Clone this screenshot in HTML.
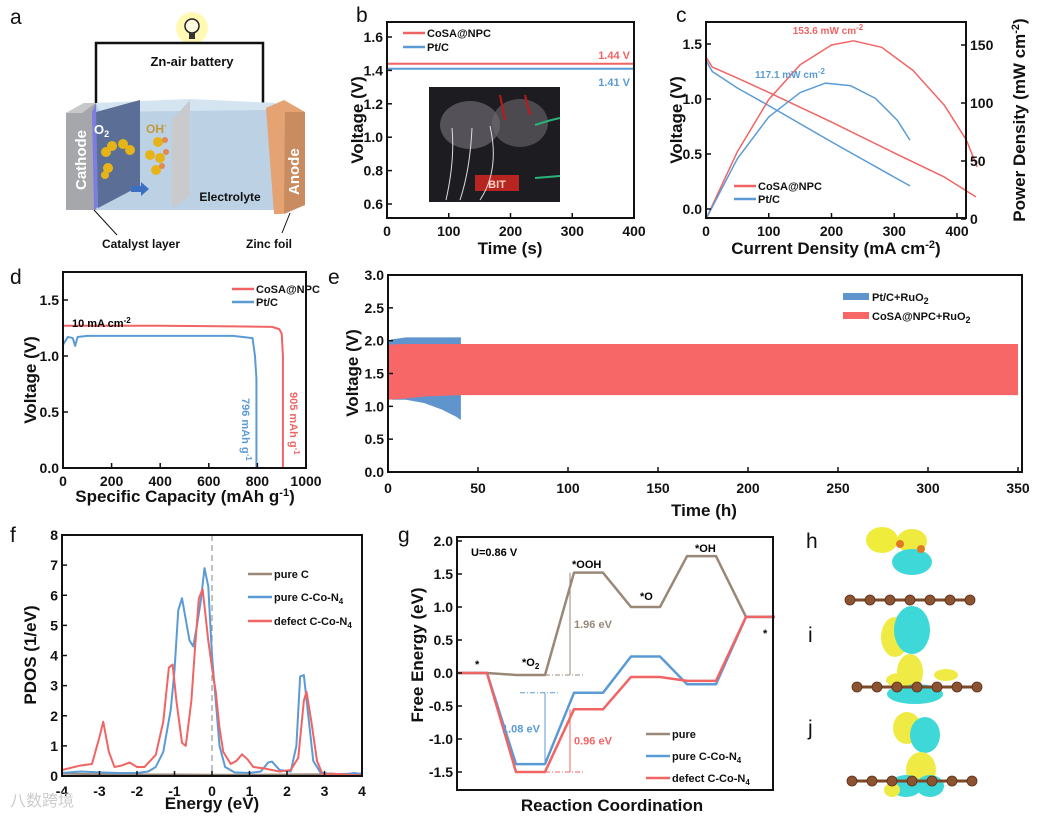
<!DOCTYPE html>
<html><head><meta charset="utf-8"><style>
html,body{margin:0;padding:0;background:#fff;}
svg{display:block;font-family:"Liberation Sans",Arial,sans-serif;}
.t{font-weight:bold;font-size:14px;fill:#111;}
.ax{font-weight:bold;font-size:17px;fill:#111;}
.pl{font-size:21px;fill:#111;}
.lg{font-weight:bold;font-size:11px;fill:#111;}
</style></head><body>
<svg id="fig" width="1039" height="817" viewBox="0 0 1039 817" xmlns="http://www.w3.org/2000/svg">
<g>
  <circle cx="192" cy="28" r="16" fill="#fff7a0" opacity="0.8"/>
  <circle cx="192" cy="26" r="7" fill="#fffbe0" stroke="#222" stroke-width="1.5"/>
  <rect x="189" y="33" width="6" height="6" fill="#333"/>
  <polyline points="96,103 96,43 263,43 263,103" fill="none" stroke="#111" stroke-width="2.5"/>
  <text x="192" y="66" text-anchor="middle" font-weight="bold" font-size="13" fill="#111">Zn-air battery</text>
  <polygon points="96,103 190,100 275,103 275,210 96,210" fill="#bcd2e4"/>
  <polygon points="96,103 190,99 275,103 268,110 100,112" fill="#d4e4f0"/>
  <polygon points="66,113 84,103 96,103 96,210 66,210" fill="#a6a7aa"/>
  <polygon points="66,113 84,103 96,103 82,113" fill="#c7c8ca"/>
  <polygon points="92,112 96,103 98,207 94,210" fill="#7b7ee0"/>
  <polygon points="96,112 140,100 140,186 98,208" fill="#5b6f96"/>
  <polygon points="172,120 190,100 190,196 172,208" fill="#c9cacd"/>
  <polygon points="266,108 284,100 305,112 305,205 282,214 274,214" fill="#e5a272"/>
  <polygon points="285,112 305,112 305,205 284,214" fill="#c98c60"/>
  <text transform="translate(86,190) rotate(-90)" font-weight="bold" font-size="15" fill="#fff">Cathode</text>
  <text transform="translate(299,195) rotate(-90)" font-weight="bold" font-size="15" fill="#fff">Anode</text>
  <text x="94" y="134" font-weight="bold" font-size="13" fill="#fff">O<tspan font-size="9" dy="3">2</tspan></text>
  <text x="146" y="133" font-weight="bold" font-size="12" fill="#c29a3c">OH<tspan font-size="8" dy="-5">-</tspan></text>
  <g fill="#e6b418">
    <circle cx="106" cy="152" r="5"/><circle cx="112" cy="146" r="5"/><circle cx="123" cy="144" r="5"/><circle cx="130" cy="150" r="5"/><circle cx="108" cy="168" r="5"/><circle cx="105" cy="175" r="4"/>
    <circle cx="158" cy="142" r="5"/><circle cx="150" cy="155" r="5"/><circle cx="160" cy="158" r="5"/><circle cx="156" cy="170" r="5"/>
  </g>
  <g fill="#e08a50"><circle cx="165" cy="140" r="3"/><circle cx="166" cy="152" r="3"/><circle cx="162" cy="166" r="3"/></g>
  <polygon points="131,186 141,186 141,182 149,189 141,196 141,192 131,192" fill="#3a6fc4"/>
  <text x="230" y="201" text-anchor="middle" font-weight="bold" font-size="12" fill="#111">Electrolyte</text>
  <line x1="94" y1="210" x2="117" y2="235" stroke="#111" stroke-width="1"/>
  <line x1="290" y1="213" x2="282" y2="233" stroke="#111" stroke-width="1"/>
  <text x="141" y="248" text-anchor="middle" font-weight="bold" font-size="12" fill="#111">Catalyst layer</text>
  <text x="269" y="248" text-anchor="middle" font-weight="bold" font-size="12" fill="#111">Zinc foil</text>
</g>
<g>
  <rect x="429" y="87" width="131" height="115" fill="#1d1c20"/>
  <ellipse cx="470" cy="125" rx="30" ry="24" fill="#6c6870" opacity="0.7"/>
  <ellipse cx="520" cy="123" rx="28" ry="24" fill="#6c6870" opacity="0.6"/>
  <rect x="475" y="175" width="44" height="16" fill="#b8241f"/>
  <text x="497" y="188" text-anchor="middle" font-weight="bold" font-size="11" fill="#ffd0c0">BIT</text>
  <path d="M452 128 Q455 160 446 200 M472 128 Q470 170 460 200 M490 126 Q500 170 480 200" stroke="#ddd" fill="none" stroke-width="1"/>
  <path d="M525 95 L530 115 M500 95 L505 120" stroke="#c01818" stroke-width="2"/>
  <path d="M535 125 Q550 120 560 118 M535 178 L560 176" stroke="#2bb27a" stroke-width="2" fill="none"/>
</g>
<g>
  <ellipse cx="882" cy="540" rx="16" ry="13" fill="#f0ec3c"/>
  <ellipse cx="912" cy="541" rx="15" ry="12" fill="#eeea40"/>
  <ellipse cx="912" cy="562" rx="20" ry="13" fill="#3ed8d8"/>
  <circle cx="900" cy="544" r="4" fill="#e07a20"/><circle cx="921" cy="549" r="4" fill="#e07a20"/>
</g>
<g>
  <ellipse cx="895" cy="637" rx="14" ry="20" fill="#efeb44"/>
  <ellipse cx="912" cy="630" rx="18" ry="24" fill="#3ed8d8"/>
  <ellipse cx="910" cy="672" rx="13" ry="18" fill="#efeb44"/>
  <ellipse cx="946" cy="675" rx="12" ry="6" fill="#efeb44"/>
  <ellipse cx="915" cy="694" rx="28" ry="10" fill="#3ed8d8"/>
  <ellipse cx="900" cy="680" rx="14" ry="7" fill="#efeb44"/>
</g>
<g>
  <ellipse cx="907" cy="728" rx="14" ry="16" fill="#efeb44"/>
  <ellipse cx="925" cy="735" rx="15" ry="18" fill="#3ed8d8"/>
  <ellipse cx="921" cy="770" rx="15" ry="18" fill="#efeb44"/>
  <ellipse cx="906" cy="786" rx="16" ry="11" fill="#3ed8d8"/>
  <ellipse cx="930" cy="786" rx="14" ry="11" fill="#3ed8d8"/>
  <ellipse cx="892" cy="790" rx="8" ry="7" fill="#efeb44"/>
</g>
</svg>
<script>
const NS='http://www.w3.org/2000/svg';
const svg=document.getElementById('fig');
function el(tag,attrs,txt){const e=document.createElementNS(NS,tag);for(const k in attrs)e.setAttribute(k,attrs[k]);if(txt!==undefined)e.textContent=txt;svg.appendChild(e);return e;}
function sc(d0,d1,r0,r1){return v=>r0+(v-d0)*(r1-r0)/(d1-d0);}

// panel b
const bTime=[0,400];
const bCoSA=[1.44,1.44];
const bPtC=[1.41,1.41];
const bXTicks=[0,100,200,300,400];
const bYTicks=[0.6,0.8,1.0,1.2,1.4,1.6];
// panel c
const cCoSA_I=[0,10,50,100,200,300,380,430];
const cCoSA_V=[1.38,1.29,1.19,1.06,0.79,0.51,0.29,0.11];
const cPt_I=[0,10,50,100,200,300,325];
const cPt_V=[1.35,1.25,1.1,0.94,0.61,0.29,0.21];
const cCoSA_PI=[0,50,100,150,200,235,280,330,380,415,432];
const cCoSA_P=[0,58,103,133,150,153.6,148,128,98,68,45];
const cPt_PI=[0,50,100,150,190,230,270,305,325];
const cPt_P=[0,52,88,109,117.1,115,104,85,68];
const cXTicks=[0,100,200,300,400];
const cYTicks=[0.0,0.5,1.0,1.5];
const cPTicks=[0,50,100,150];
// panel d
const dCoSA_C=[0,100,400,700,860,890,900,905,905];
const dCoSA_V=[1.27,1.27,1.27,1.265,1.26,1.24,1.2,1.0,0];
const dPt_C=[0,20,40,50,60,100,400,700,780,790,796,796];
const dPt_V=[1.1,1.17,1.16,1.09,1.17,1.18,1.18,1.18,1.16,1.0,0.8,0];
const dXTicks=[0,200,400,600,800,1000];
const dYTicks=[0.0,0.5,1.0,1.5];
// panel e
const ePt_T=[0,2,10,20,30,38,40,40.5];
const ePt_Top=[1.98,2.02,2.05,2.05,2.05,2.05,2.05,2.05];
const ePt_Bot=[1.15,1.1,1.1,1.05,0.95,0.84,0.8,0.8];
const eCo_T=[0,10,20,40,100,200,300,350];
const eCo_Top=[1.94,1.95,1.95,1.95,1.95,1.95,1.95,1.95];
const eCo_Bot=[1.1,1.12,1.15,1.17,1.17,1.17,1.17,1.17];
const eXTicks=[0,50,100,150,200,250,300,350];
const eYTicks=[0.0,0.5,1.0,1.5,2.0,2.5,3.0];
// panel f
const fRedE=[-4,-3.5,-3.2,-3,-2.9,-2.75,-2.6,-2.4,-2.2,-2,-1.8,-1.5,-1.3,-1.15,-1.05,-0.95,-0.8,-0.7,-0.55,-0.45,-0.35,-0.25,-0.1,0,0.1,0.2,0.3,0.5,0.65,0.8,0.95,1.1,1.4,1.8,2.1,2.3,2.45,2.52,2.65,2.8,2.95,3.2,3.5,4];
const fRed=[0.2,0.35,0.4,1.3,1.8,0.8,0.3,0.35,0.45,0.3,0.3,0.7,1.8,3.6,3.7,2.5,1.1,1.0,2.5,4.3,5.9,6.2,4.5,3.6,2.8,1.6,0.8,0.4,0.5,0.72,0.55,0.3,0.25,0.15,0.2,0.6,2.5,2.8,1.8,0.5,0.05,0.08,0.05,0.02];
const fBlueE=[-4,-3.5,-3,-2.5,-2,-1.7,-1.5,-1.3,-1.1,-1.0,-0.9,-0.8,-0.7,-0.6,-0.5,-0.4,-0.3,-0.2,-0.1,0,0.1,0.2,0.35,0.6,1,1.3,1.5,1.6,1.8,2.1,2.25,2.35,2.45,2.55,2.7,2.9,3.5,3.8,4];
const fBlue=[0.1,0.15,0.12,0.1,0.1,0.15,0.3,0.8,2.2,3.5,5.5,5.9,5.2,4.5,4.3,5.0,5.8,6.9,6.3,4.0,2.5,1.0,0.3,0.12,0.1,0.15,0.45,0.48,0.2,0.15,1.0,3.3,3.35,2.2,0.5,0.1,0.05,0.1,0.05];
const fBrownE=[-4,-3,-2,-1,0,1,2,3,4];
const fBrown=[0.08,0.06,0.05,0.05,0.04,0.04,0.05,0.06,0.08];
const fXTicks=[-4,-3,-2,-1,0,1,2,3,4];
const fYTicks=[0,1,2,3,4,5,6,7,8];
// panel g
const gSteps=[0,1,2,3,4,5];
const gPure=[0,-0.03,1.52,1.0,1.77,0.85];
const gPureCoN4=[0,-1.38,-0.3,0.25,-0.17,0.85];
const gDefect=[0,-1.5,-0.55,-0.06,-0.12,0.85];
const gYTicks=[-1.5,-1.0,-0.5,0.0,0.5,1.0,1.5,2.0];

const RED='#f06464', BLUE='#5b9bd5', BROWN='#998877';

function frame(name,x0,y0,x1,y1){const r=el('rect',{x:x0,y:y0,width:x1-x0,height:y1-y0,fill:'none',stroke:'#111','stroke-width':2});

}
function xAxis(name,ticks,X,y0,y1,fmt,ly,fs){for(const t of ticks){const l=el('line',{x1:X(t),x2:X(t),y1:y1,y2:y1-5,stroke:'#111','stroke-width':1.5});


const tx=el('text',{x:X(t),y:ly,'text-anchor':'middle',class:'t','font-size':fs||14},fmt(t));

}}
function yAxis(name,ticks,Y,x,fmt,right,fs){for(const t of ticks){const l=el('line',{x1:x,x2:right?x-5:x+5,y1:Y(t),y2:Y(t),stroke:'#111','stroke-width':1.5});


const tx=el('text',{x:right?x+4:x-4,y:Y(t)+5,'text-anchor':right?'start':'end',class:'t','font-size':fs||14},fmt(t));

}}
function line(name,xs,ys,X,Y,color,w){const p=el('polyline',{points:xs.map((x,i)=>X(x)+','+Y(ys[i])).join(' '),fill:'none',stroke:color,'stroke-width':w||2,'stroke-linejoin':'round'});

return p;}
function text(name,x,y,s,attrs){const t=el('text',Object.assign({x:x,y:y},attrs||{}));t.innerHTML=s;

return t;}
function vtext(name,x,y,s,fs){const t=el('text',{transform:`translate(${x},${y}) rotate(-90)`,'text-anchor':'middle',class:'ax','font-size':fs||17});t.innerHTML=s;

return t;}
function legend(name,x,y,color,label,len){const l=el('line',{x1:x,x2:x+(len||22),y1:y,y2:y,stroke:color,'stroke-width':2.5});


text(name,x+(len||22)+2,y+4,label,{class:'lg'});}
const f1=v=>v.toFixed(1), f0=v=>String(v);

[['a',10,24],['b',356,22],['c',676,22],['d',10,284],['e',328,284],['f',10,542],['g',398,542],['h',806,548],['i',808,642],['j',808,735]].forEach(p=>{text('panel-label-'+p[0],p[1],p[2],p[0],{class:'pl'});});

// panel b
{const X=sc(0,400,387,634),Y=sc(0.6,1.6,204,37);
line('b-series-cosa',bTime,bCoSA,X,Y,RED);line('b-series-ptc',bTime,bPtC,X,Y,BLUE);
frame('b',387,22,634,218);xAxis('b',bXTicks,X,22,218,f0,236);yAxis('b',bYTicks,Y,387,f1);
vtext('b-y-axis-title',363,120,'Voltage (V)');text('b-x-axis-title',510,254,'Time (s)',{'text-anchor':'middle',class:'ax'});
legend('b-legend-cosa',403,33,RED,'CoSA@NPC');legend('b-legend-ptc',403,47,BLUE,'Pt/C');
text('b-label-144',630,59,'1.44 V',{'text-anchor':'end','font-size':11,'font-weight':'bold',fill:RED});
text('b-label-141',630,86,'1.41 V',{'text-anchor':'end','font-size':11,'font-weight':'bold',fill:BLUE});}

// panel c
{const X=sc(0,400,706,957),Y=sc(0,1.5,209,44),P=sc(0,150,219,45);
line('c-voltage-cosa',cCoSA_I,cCoSA_V,X,Y,RED,1.5);line('c-voltage-ptc',cPt_I,cPt_V,X,Y,BLUE,1.5);
line('c-power-cosa',cCoSA_PI,cCoSA_P,X,P,RED,1.5);line('c-power-ptc',cPt_PI,cPt_P,X,P,BLUE,1.5);
frame('c',706,22,966,218);xAxis('c',cXTicks,X,22,218,f0,236);yAxis('c',cYTicks,Y,706,f1);yAxis('c-right',cPTicks,P,966,f0,true);
vtext('c-y-axis-title',682,120,'Voltage (V)');vtext('c-y2-axis-title',1025,120,'Power Density (mW cm<tspan font-size="11" dy="-6">-2</tspan><tspan dy="6">)</tspan>');
text('c-x-axis-title',836,254,'Current Density (mA cm<tspan font-size="11" dy="-6">-2</tspan><tspan dy="6">)</tspan>',{'text-anchor':'middle',class:'ax'});
legend('c-legend-cosa',734,186,RED,'CoSA@NPC');legend('c-legend-ptc',734,199,BLUE,'Pt/C');
text('c-peak-cosa',828,34,'153.6 mW cm<tspan font-size="8" dy="-4">-2</tspan>',{'text-anchor':'middle','font-size':10,'font-weight':'bold',fill:RED});
text('c-peak-ptc',790,78,'117.1 mW cm<tspan font-size="8" dy="-4">-2</tspan>',{'text-anchor':'middle','font-size':10,'font-weight':'bold',fill:BLUE});}

// panel d
{const X=sc(0,1000,63,306),Y=sc(0,1.5,468,300);
line('d-series-cosa',dCoSA_C,dCoSA_V,X,Y,RED);line('d-series-ptc',dPt_C,dPt_V,X,Y,BLUE);
frame('d',63,272,306,468);xAxis('d',dXTicks,X,272,468,f0,486);yAxis('d',dYTicks,Y,63,f1);
vtext('d-y-axis-title',36,380,'Voltage (V)');
text('d-x-axis-title',185,502,'Specific Capacity (mAh g<tspan font-size="11" dy="-6">-1</tspan><tspan dy="6">)</tspan>',{'text-anchor':'middle',class:'ax'});
text('d-current-label',72,327,'10 mA cm<tspan font-size="8" dy="-4">-2</tspan>',{'font-size':11,'font-weight':'bold'});
legend('d-legend-cosa',232,289,RED,'CoSA@NPC');legend('d-legend-ptc',232,302,BLUE,'Pt/C');
text('d-capacity-cosa',0,0,'905 mAh g<tspan font-size="8" dy="-4">-1</tspan>',{transform:'translate(290,392) rotate(90)','font-size':11,'font-weight':'bold',fill:RED});
text('d-capacity-ptc',0,0,'796 mAh g<tspan font-size="8" dy="-4">-1</tspan>',{transform:'translate(242,398) rotate(90)','font-size':11,'font-weight':'bold',fill:BLUE});}

// panel e
{const X=sc(0,350,388,1018),Y=sc(0,3,472,275);
function band(name,ts,top,bot,color){const pts=ts.map((t,i)=>X(t)+','+Y(top[i])).concat(ts.slice().reverse().map((t,i)=>X(t)+','+Y(bot[ts.length-1-i])));
const p=el('polygon',{points:pts.join(' '),fill:color});

}
band('e-band-ptc',ePt_T,ePt_Top,ePt_Bot,'#5f95cc');band('e-band-cosa',eCo_T,eCo_Top,eCo_Bot,'#f76768');
const fr=el('rect',{x:388,y:275,width:634,height:197,fill:'none',stroke:'#111','stroke-width':2});


xAxis('e',eXTicks,X,275,472,f0,493,16);yAxis('e',eYTicks,Y,388,f1,false,16);
vtext('e-y-axis-title',358,373,'Voltage (V)',20);
text('e-x-axis-title',704,516,'Time (h)',{'text-anchor':'middle',class:'ax','font-size':20});
const l1=el('rect',{x:843,y:293,width:26,height:7,fill:'#5f95cc'});


text('e-legend-ptc',872,301,'Pt/C+RuO<tspan font-size="9" dy="3">2</tspan>',{class:'lg','font-size':12});
const l2=el('rect',{x:843,y:312,width:26,height:7,fill:'#f76768'});


text('e-legend-cosa',872,320,'CoSA@NPC+RuO<tspan font-size="9" dy="3">2</tspan>',{class:'lg','font-size':12});}

// panel f
{const X=sc(-4,4,62,362),Y=sc(0,8,776,535);
const dl=el('line',{x1:X(0),x2:X(0),y1:535,y2:776,stroke:'#999','stroke-dasharray':'6,4','stroke-width':1.2});


line('f-series-pure-c',fBrownE,fBrown,X,Y,BROWN);line('f-series-pure-cocn4',fBlueE,fBlue,X,Y,BLUE);line('f-series-defect-cocn4',fRedE,fRed,X,Y,RED);
frame('f',62,535,362,776);xAxis('f',fXTicks,X,535,776,f0,796);yAxis('f',fYTicks,Y,62,f0);
vtext('f-y-axis-title',36,655,'PDOS (1/eV)');text('f-x-axis-title',212,809,'Energy (eV)',{'text-anchor':'middle',class:'ax'});
legend('f-legend-pure-c',248,574,BROWN,'pure C',24);legend('f-legend-pure-cocn4',248,597,BLUE,'pure C-Co-N<tspan font-size="8" dy="3">4</tspan>',24);legend('f-legend-defect-cocn4',248,621,RED,'defect C-Co-N<tspan font-size="8" dy="3">4</tspan>',24);
text('watermark',10,806,'八数跨境',{'font-family':'"Liberation Sans","Noto Sans CJK SC",sans-serif','font-size':16,fill:'#ccc'});}

// panel g
{const Y=sc(0,2,673,541),L=[458,516,574,631,687,746],W=29;
function path(name,vals,color){const pts=[];gSteps.forEach((s,i)=>{pts.push(L[s]+','+Y(vals[i]));pts.push(L[s]+W+','+Y(vals[i]));});
const p=el('polyline',{points:pts.join(' '),fill:'none',stroke:color,'stroke-width':2.5,'stroke-linejoin':'round'});

}
path('g-series-pure',gPure,BROWN);path('g-series-pure-cocn4',gPureCoN4,BLUE);path('g-series-defect',gDefect,RED);
frame('g',457,537,773,790);yAxis('g',gYTicks,Y,457,f1);
vtext('g-y-axis-title',423,655,'Free Energy (eV)');text('g-x-axis-title',612,811,'Reaction Coordination',{'text-anchor':'middle',class:'ax'});
text('g-u-label',471,556,'U=0.86 V',{'font-size':11,'font-weight':'bold'});
[['*',475,668],['*O<tspan font-size="8" dy="3">2</tspan>',522,666],['*OOH',572,568],['*O',640,600],['*OH',695,552],['*',763,637]].forEach((s,i)=>text('g-state-label-'+i,s[1],s[2],s[0],{'font-size':11,'font-weight':'bold'}));
function arr(name,x,v1,v2,color,lbl,lx){const a=el('line',{x1:x,x2:x,y1:Y(v1),y2:Y(v2),stroke:color,'stroke-width':1});


const d=el('line',{x1:x-25,x2:x+15,y1:Y(v1),y2:Y(v1),stroke:color,'stroke-dasharray':'5,2,1,2'});


text(name+'-label',lx,(Y(v1)+Y(v2))/2+4,lbl,{'font-size':11,'font-weight':'bold',fill:color});}
arr('g-gap-pure',L[2]-4,gPure[1],gPure[2],BROWN,'1.96 eV',L[2]);
arr('g-gap-pure-cocn4',L[1]+W,gPureCoN4[2],gPureCoN4[1],BLUE,'1.08 eV',L[1]-14);
arr('g-gap-defect',L[2]-4,gDefect[1],gDefect[2],RED,'0.96 eV',L[2]);
legend('g-legend-pure',646,734,BROWN,'pure',24);legend('g-legend-pure-cocn4',646,756,BLUE,'pure C-Co-N<tspan font-size="8" dy="3">4</tspan>',24);legend('g-legend-defect',646,778,RED,'defect C-Co-N<tspan font-size="8" dy="3">4</tspan>',24);}

// atom chains
const chainY=[600,687,781];
const chainX=[[850,870,890,910,930,950,970],[857,877,897,917,937,957,977],[852,872,892,912,932,952,972]];
chainY.forEach((y,k)=>{const xs=chainX[k];
const b=el('line',{x1:xs[0],x2:xs[xs.length-1],y1:y,y2:y,stroke:'#7a4a2a','stroke-width':3});


xs.forEach(x=>{const c=el('circle',{cx:x,cy:y,r:5,fill:'#8b5330',stroke:'#5a3018','stroke-width':0.8});

});});
</script>
</body></html>
